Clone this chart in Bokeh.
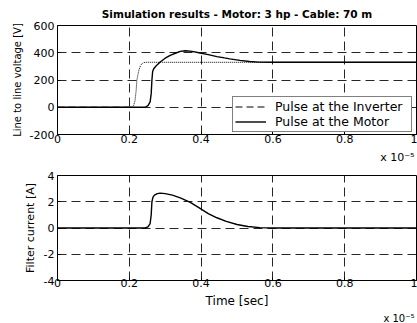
from bokeh.plotting import figure
from bokeh.models import Range1d, FixedTicker, Legend, LegendItem, Title
from bokeh.layouts import column
from bokeh.embed import file_html
from bokeh.resources import INLINE

# ---------------- data (time in units of 1e-5 s) ----------------
t_inv = [0, 0.205, 0.212, 0.216, 0.219, 0.221, 0.224, 0.227, 0.232, 0.238, 0.245, 1.0]
v_inv = [0, 0, 12, 50, 120, 198, 240, 275, 310, 326, 330, 330]

t_mot = [0, 0.244, 0.252, 0.258, 0.261, 0.263, 0.265, 0.268, 0.275, 0.286, 0.300,
         0.314, 0.330, 0.342, 0.356, 0.375, 0.397, 0.420, 0.444, 0.465, 0.480,
         0.508, 0.535, 0.560, 0.600, 1.0]
v_mot = [0, 0, 12, 39, 100, 200, 262, 283, 305, 332, 360,
         381, 398, 410, 415, 410, 398, 386, 372, 362, 355,
         344, 336, 331, 330, 330]

t_cur = [0, 0.244, 0.252, 0.258, 0.261, 0.263, 0.266, 0.270, 0.278, 0.286, 0.300,
         0.320, 0.342, 0.370, 0.397, 0.420, 0.444, 0.470, 0.500, 0.530, 0.564, 0.600, 1.0]
i_cur = [0, 0, 0.08, 0.34, 1.0, 2.0, 2.35, 2.5, 2.62, 2.66, 2.62,
         2.5, 2.29, 1.95, 1.5, 1.1, 0.78, 0.5, 0.27, 0.11, 0.03, 0, 0]

x_ticks = [0, 0.2, 0.4, 0.6, 0.8, 1.0]
x_tick_labels = ["0", "0.2", "0.4", "0.6", "0.8", "1"]
v_ticks = [-200, 0, 200, 400, 600]
i_ticks = [-4, -2, 0, 2, 4]

title_text = "Simulation results - Motor: 3 hp - Cable: 70 m"
legend_labels = ["Pulse at the Inverter", "Pulse at the Motor"]
exponent_text = "x 10\u207b\u2075"

FONT = "DejaVu Sans"


def style(p, yticks, ylabel, ylabel_size):
    p.x_range = Range1d(0, 1.0)
    p.y_range = Range1d(yticks[0], yticks[-1])
    p.xaxis.ticker = FixedTicker(ticks=x_ticks)
    p.xaxis.major_label_overrides = {float(t): l for t, l in zip(x_ticks, x_tick_labels)}
    p.yaxis.ticker = FixedTicker(ticks=yticks)
    p.yaxis.major_label_overrides = {float(t): str(t) for t in yticks}
    for ax in (p.xaxis[0], p.yaxis[0]):
        ax.major_tick_in = 3
        ax.major_tick_out = 0
        ax.minor_tick_line_color = None
        ax.major_tick_line_color = "black"
        ax.axis_line_color = "black"
        ax.major_label_text_font = FONT
        ax.major_label_text_font_size = "11px"
        ax.major_label_text_color = "black"
        ax.axis_label_text_font = FONT
        ax.axis_label_text_font_style = "normal"
        ax.axis_label_text_color = "black"
    p.xaxis.major_label_standoff = 0
    p.yaxis.major_label_standoff = 3
    p.yaxis.axis_label = ylabel
    p.yaxis.axis_label_text_font_size = ylabel_size
    p.yaxis.axis_label_standoff = 4
    for g in (p.xgrid[0], p.ygrid[0]):
        g.grid_line_color = "black"
        g.grid_line_dash = "9 5"
        g.grid_line_width = 1
        g.grid_line_alpha = 0.85
    p.outline_line_color = "black"
    p.outline_line_width = 1
    p.outline_line_alpha = 1
    p.background_fill_color = "white"
    p.border_fill_color = "white"


def exponent(p, standoff, size):
    t = Title(text=exponent_text, align="right", offset=2, standoff=standoff,
              text_font=FONT, text_font_size=size, text_font_style="normal",
              text_color="black")
    p.add_layout(t, "below")


# ---------------- top: voltage ----------------
p1 = figure(width=417, height=167, output_backend="svg", toolbar_location=None,
            min_border_left=57, min_border_right=1, min_border_top=25, min_border_bottom=33)
style(p1, v_ticks, "Line to line voltage [V]", "10px")
p1.title.text = title_text
p1.title.align = "center"
p1.title.vertical_align = "middle"
p1.title.text_font = FONT
p1.title.text_font_style = "bold"
p1.title.text_font_size = "10.5px"
p1.title.text_color = "black"
p1.title.standoff = 10

# dashed legend sample: the inverter pulse's flat start, hidden under the motor line
r_dash = p1.line(t_inv[:2], v_inv[:2], line_color="black", line_width=1, line_dash="7 4")
p1.line(t_inv, v_inv, line_color="black", line_width=1, line_dash="1 1")
r_mot = p1.line(t_mot, v_mot, line_color="black", line_width=1.4)

legend = Legend(items=[LegendItem(label=legend_labels[0], renderers=[r_dash]),
                       LegendItem(label=legend_labels[1], renderers=[r_mot])],
                location=(175, 2))
legend.border_line_color = "black"
legend.border_line_width = 1
legend.background_fill_color = "white"
legend.background_fill_alpha = 1
legend.padding = 2
legend.spacing = 0
legend.margin = 0
legend.glyph_width = 31
legend.glyph_height = 13
legend.label_height = 13
legend.label_standoff = 9
legend.label_width = 134
legend.label_text_font = FONT
legend.label_text_font_size = "12.5px"
legend.label_text_color = "black"
p1.add_layout(legend)
exponent(p1, 6, "11px")

# ---------------- bottom: current ----------------
p2 = figure(width=417, height=156, output_backend="svg", toolbar_location=None,
            min_border_left=57, min_border_right=1, min_border_top=8, min_border_bottom=39)
style(p2, i_ticks, "Filter current [A]", "11px")
p2.xaxis.major_label_standoff = -2
p2.xaxis.axis_label = "Time [sec]"
p2.xaxis.axis_label_text_font_size = "12px"
p2.xaxis.axis_label_standoff = 4
p2.line(t_cur, i_cur, line_color="black", line_width=1.4)
exponent(p2, 0, "10px")

layout = column(p1, p2, spacing=0)
open("out.html", "w").write(file_html(layout, INLINE))
